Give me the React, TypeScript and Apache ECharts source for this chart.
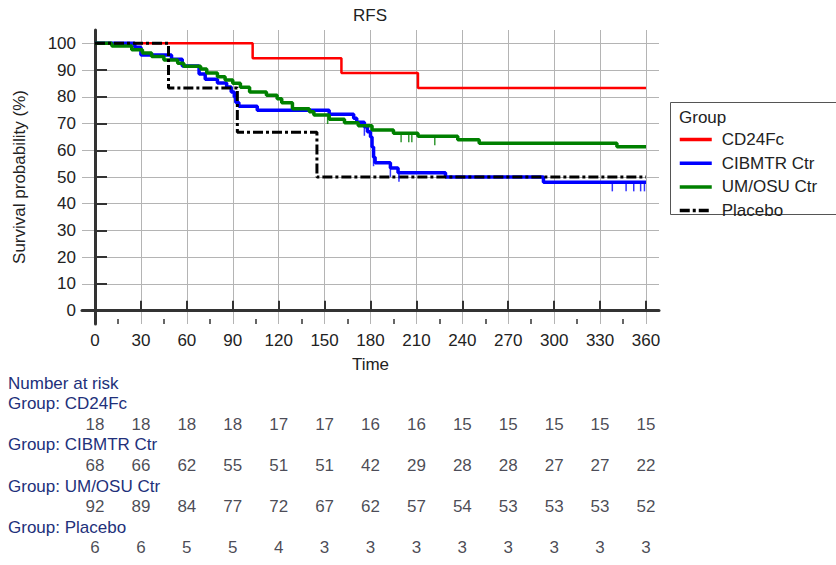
import React, { useEffect, useRef } from "react";
import * as echarts from "echarts";

const FONT = "'Liberation Sans', Arial, sans-serif";

const groups = ["CD24Fc", "CIBMTR Ctr", "UM/OSU Ctr", "Placebo"];
const groupColors = ["#ff0000", "#0000ff", "#008000", "#000000"];

// Kaplan-Meier step curves: [time, survival %] (value reached at that time)
const curveCD24Fc = [[0, 100], [103, 94.4], [161, 88.9], [211, 83.3], [360, 83.3]];
const curveCIBMTR = [
  [0, 100], [26, 98.5], [30, 95.6], [50, 94.1], [57, 91.5], [68, 88.5], [72, 86.6],
  [80, 85.2], [86, 83.7], [89, 81.8], [91, 79.9], [92, 77.9], [94, 76.5], [106, 75],
  [153, 73.5], [169, 72], [171, 70.5], [176, 68.8], [178, 66.9], [180, 65], [181, 61.2],
  [182, 57.4], [183, 55.3], [193, 53.4], [198, 51.6], [229, 50], [293, 48], [360, 48],
];
const curveUMOSU = [
  [0, 100], [11, 99], [24, 97.6], [31, 96.4], [37, 95.1], [45, 93.8], [54, 92.6],
  [58, 91.4], [69, 90.4], [73, 88.9], [80, 87.5], [85, 86.3], [90, 85.1], [95, 83.6],
  [101, 81.8], [112, 80.6], [119, 79.3], [122, 77.8], [129, 75.5], [140, 74.4],
  [143, 73.2], [153, 71.6], [163, 70.3], [172, 69.2], [181, 67.6], [195, 66.4],
  [211, 65.2], [237, 63.9], [251, 62.6], [341, 61.3], [360, 61.3],
];
const curvePlacebo = [[0, 100], [48, 83.3], [93, 66.7], [145, 50], [360, 50]];

// censoring times
const censorCIBMTR = [176, 182, 193, 198.6, 338, 347, 352, 356.5, 359];
const censorUMOSU = [152, 200, 205, 207, 222];

// number at risk table
const riskTimes = [0, 30, 60, 90, 120, 150, 180, 210, 240, 270, 300, 330, 360];
const riskCD24Fc = [18, 18, 18, 18, 17, 17, 16, 16, 15, 15, 15, 15, 15];
const riskCIBMTR = [68, 66, 62, 55, 51, 51, 42, 29, 28, 28, 27, 27, 22];
const riskUMOSU = [92, 89, 84, 77, 72, 67, 62, 57, 54, 53, 53, 53, 52];
const riskPlacebo = [6, 6, 5, 5, 4, 3, 3, 3, 3, 3, 3, 3, 3];

const xTicks = [0, 30, 60, 90, 120, 150, 180, 210, 240, 270, 300, 330, 360];
const xMinorTicks = [15, 45, 75, 105, 135, 165, 195, 225, 255, 285, 315, 345];
const yTicks = [0, 10, 20, 30, 40, 50, 60, 70, 80, 90, 100];

function stepValue(curve: number[][], t: number) {
  let v = curve[0][1];
  for (const p of curve) if (p[0] <= t) v = p[1];
  return v;
}

export default function App() {
  const ref = useRef<HTMLDivElement>(null);
  useEffect(() => {
    const chart = echarts.init(ref.current!, null, { renderer: "svg" });
    const curves = [curveCD24Fc, curveCIBMTR, curveUMOSU, curvePlacebo];
    const widths = [2.5, 3.5, 3.5, 3];
    const riskRows = [riskCD24Fc, riskCIBMTR, riskUMOSU, riskPlacebo];
    const riskData: any[] = [];
    riskRows.forEach((row, r) =>
      row.forEach((n, i) => riskData.push([riskTimes[i], r, n]))
    );
    const lineSeries = curves.map((c, i) => ({
      name: groups[i],
      type: "line",
      xAxisIndex: 0,
      yAxisIndex: 0,
      step: "end",
      symbol: "none",
      data: c,
      lineStyle: {
        color: groupColors[i],
        width: widths[i],
        type: i === 3 ? [10, 3, 3, 3] : "solid",
      },
      itemStyle: { color: groupColors[i] },
      z: 3 + i,
    }));
    const censorSeries = [
      { name: "CIBMTR censored", data: censorCIBMTR.map((t) => [t, stepValue(curveCIBMTR, t)]), color: groupColors[1] },
      { name: "UM/OSU censored", data: censorUMOSU.map((t) => [t, stepValue(curveUMOSU, t)]), color: groupColors[2] },
    ].map((s) => ({
      name: s.name,
      type: "scatter",
      xAxisIndex: 0,
      yAxisIndex: 0,
      symbol: "rect",
      symbolSize: [1.5, 9],
      symbolOffset: [0, 4.5],
      itemStyle: { color: s.color },
      data: s.data,
      z: 8,
    }));
    const rowLabelY = [403.6, 444.8, 486, 527.2];
    const option: any = {
      animation: false,
      backgroundColor: "#ffffff",
      textStyle: { fontFamily: FONT },
      grid: [
        { left: 82, top: 30, width: 577, height: 294 },
        { left: 82, top: 424.2, width: 577, height: 123.6 },
      ],
      xAxis: [
        {
          type: "value",
          gridIndex: 0,
          min: -8.5,
          max: 368.5,
          position: "bottom",
          axisLine: { show: true, lineStyle: { color: "#333333", width: 3 } },
          axisTick: { show: true, inside: true, length: 10, customValues: xTicks, lineStyle: { color: "#333333", width: 2 } },
          axisLabel: { customValues: xTicks, fontSize: 17, color: "#222222", margin: 8, fontFamily: FONT },
          splitLine: { show: true, lineStyle: { color: "#b4b4b4", width: 1 } },
          name: "Time",
          nameLocation: "middle",
          nameGap: 32,
          nameTextStyle: { fontSize: 17, color: "#222222", fontFamily: FONT },
        },
        {
          type: "value",
          gridIndex: 0,
          min: -8.5,
          max: 368.5,
          position: "bottom",
          axisLine: { show: false },
          axisTick: { show: true, inside: true, length: 5, customValues: xMinorTicks, lineStyle: { color: "#333333", width: 1.5 } },
          axisLabel: { show: false },
          splitLine: { show: false },
        },
        {
          type: "value",
          gridIndex: 1,
          min: -8.5,
          max: 368.5,
          show: false,
        },
      ],
      yAxis: [
        {
          type: "value",
          gridIndex: 0,
          min: -5,
          max: 105,
          axisLine: { show: true, lineStyle: { color: "#333333", width: 3 } },
          axisTick: { show: true, inside: true, length: 12, customValues: yTicks, lineStyle: { color: "#333333", width: 2 } },
          axisLabel: { customValues: yTicks, fontSize: 17, color: "#222222", margin: 6, fontFamily: FONT },
          splitLine: { show: true, lineStyle: { color: "#b4b4b4", width: 1 } },
          name: "Survival probability (%)",
          nameLocation: "middle",
          nameGap: 54,
          nameTextStyle: { fontSize: 17, color: "#222222", fontFamily: FONT },
        },
        {
          type: "value",
          gridIndex: 1,
          min: 0,
          max: 3,
          inverse: true,
          show: false,
        },
      ],
      legend: {
        data: groups,
        orient: "vertical",
        left: 678,
        top: 131,
        padding: 0,
        itemWidth: 32,
        itemHeight: 14,
        itemGap: 6.7,
        itemStyle: { opacity: 0 },
        lineStyle: { width: 3.5 },
        textStyle: { fontSize: 17, color: "#222222", fontFamily: FONT, padding: [0, 0, 0, 5] },
      },
      graphic: [
        {
          type: "text",
          x: 370,
          y: 15,
          style: { text: "RFS", fontSize: 17, fill: "#222222", fontFamily: FONT, textAlign: "center", textVerticalAlign: "middle" },
        },
        {
          type: "rect",
          shape: { x: 670.5, y: 102.5, width: 170, height: 112 },
          style: { fill: "none", stroke: "#555555", lineWidth: 1 },
          z: 1,
        },
        {
          type: "text",
          x: 679,
          y: 117,
          style: { text: "Group", fontSize: 17, fill: "#222222", fontFamily: FONT, textVerticalAlign: "middle" },
        },
        {
          type: "text",
          x: 8,
          y: 383,
          style: { text: "Number at risk", fontSize: 17, fill: "#22307a", fontFamily: FONT, textVerticalAlign: "middle" },
        },
        ...groups.map((g, i) => ({
          type: "text",
          x: 8,
          y: rowLabelY[i],
          style: { text: "Group: " + g, fontSize: 17, fill: "#22307a", fontFamily: FONT, textVerticalAlign: "middle" },
        })),
      ],
      series: [
        ...lineSeries,
        ...censorSeries,
        {
          name: "Number at risk",
          type: "scatter",
          xAxisIndex: 2,
          yAxisIndex: 1,
          symbolSize: 0,
          data: riskData,
          label: {
            show: true,
            position: "inside",
            formatter: (p: any) => String(p.value[2]),
            fontSize: 17,
            color: "#1a1a2a",
            fontFamily: FONT,
          },
          silent: true,
        },
      ],
    };
    chart.setOption(option);
    return () => chart.dispose();
  }, []);
  return (
    <div
      ref={ref}
      style={{ position: "absolute", left: 0, top: 0, width: 836, height: 565, background: "#fff" }}
    />
  );
}
